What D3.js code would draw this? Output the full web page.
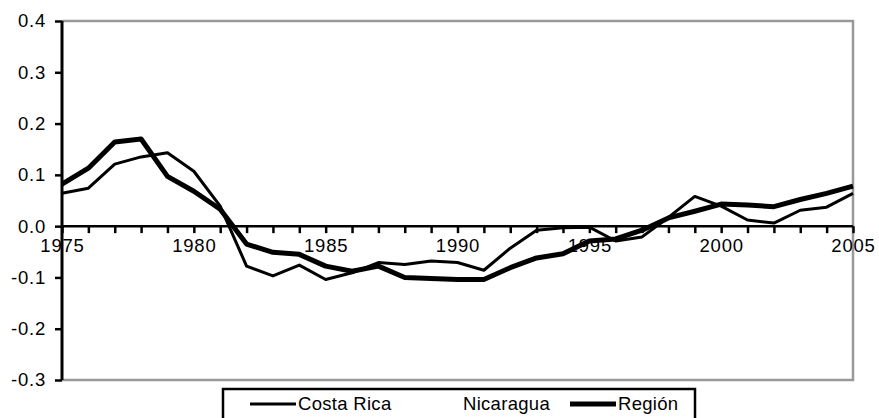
<!DOCTYPE html>
<html>
<head>
<meta charset="utf-8">
<script src="https://cdn.jsdelivr.net/npm/d3@7"></script>
<style>
  body { margin: 0; background: #fff; }
  text { font-family: "Liberation Sans", Arial, sans-serif; }
</style>
</head>
<body>
<script>
 //Data
 var years = d3.range(1975, 2006);
 var seriesNames = ["Costa Rica", "Nicaragua", "Región"];
 var costaRica = [0.064, 0.074, 0.121, 0.135, 0.143, 0.107, 0.039, -0.078, -0.097, -0.076,
     -0.104, -0.091, -0.071, -0.075, -0.068, -0.071, -0.086, -0.043, -0.008, -0.003,
     -0.002, -0.029, -0.021, 0.017, 0.058, 0.039, 0.012, 0.006, 0.031, 0.037, 0.064];
 var nicaragua = [0.100, 0.152, 0.207, 0.205, 0.051, 0.029, 0.027, 0.008, -0.005, -0.034,
     -0.052, -0.085, -0.085, -0.125, -0.136, -0.137, -0.122, -0.119, -0.116, -0.105,
     -0.056, -0.021, 0.005, 0.014, 0.000, 0.047, 0.070, 0.070, 0.073, 0.091, 0.092];
 var region = [0.082, 0.113, 0.164, 0.170, 0.097, 0.068, 0.033, -0.035, -0.051, -0.055,
     -0.078, -0.088, -0.078, -0.100, -0.102, -0.104, -0.104, -0.081, -0.062, -0.054,
     -0.029, -0.025, -0.008, 0.016, 0.029, 0.043, 0.041, 0.038, 0.052, 0.064, 0.078];
 var yTicks = [-0.3, -0.2, -0.1, 0.0, 0.1, 0.2, 0.3, 0.4];

 //Width and height
 var W = 879, H = 418;
 var plot = { left: 62, right: 853, top: 21, bottom: 380 };
 var fontSize = 18.5, spacing = "0.8px";

 var svg = d3.select("body")
     .append("svg")
     .attr("width", W)
     .attr("height", H);

 //Scales
 var x = d3.scaleLinear()
     .domain([1975, 2005])
     .range([plot.left, plot.right]);
 var y = d3.scaleLinear()
     .domain([-0.3, 0.4])
     .range([plot.bottom, plot.top]);

 var fmt = function(d) { return d.toFixed(1).replace("\u2212", "-"); };

 //Nicaragua is drawn in white, underneath everything else
 var line = d3.line()
     .x(function(d, i) { return x(years[i]); })
     .y(function(d) { return y(d); });

 svg.append("path")
     .datum(nicaragua)
     .attr("d", line)
     .attr("fill", "none")
     .attr("stroke", "#fff")
     .attr("stroke-width", 3);

 //Plot border (top, right, bottom)
 svg.append("path")
     .attr("d", "M" + plot.left + "," + y(0.4) + "H" + x(2005) + "V" + y(-0.3) + "H" + plot.left)
     .attr("fill", "none")
     .attr("stroke", "#999")
     .attr("stroke-width", 2.5);

 //Y axis
 var yAxis = svg.append("g")
     .attr("transform", "translate(" + plot.left + ",0)")
     .call(d3.axisLeft(y).tickValues(yTicks).tickSize(7).tickPadding(9).tickFormat(fmt));
 yAxis.select(".domain").attr("stroke", "#000").attr("stroke-width", 3)
     .attr("d", "M0," + y(0.4) + "V" + y(-0.3));
 yAxis.selectAll(".tick line").attr("stroke", "#000").attr("stroke-width", 2.5);
 yAxis.selectAll("text").attr("font-size", fontSize).attr("fill", "#000")
     .attr("letter-spacing", spacing)
     .attr("font-family", "Liberation Sans, Arial, sans-serif");

 //X axis, crossing at zero
 var xAxis = svg.append("g")
     .attr("transform", "translate(0," + y(0) + ")")
     .call(d3.axisBottom(x).tickValues(years).tickSize(7).tickPadding(6)
         .tickFormat(function(d) { return d % 5 === 0 ? d : ""; }));
 xAxis.select(".domain").attr("stroke", "#000").attr("stroke-width", 2.5)
     .attr("d", "M" + plot.left + ",0H" + plot.right);
 xAxis.selectAll(".tick line").attr("stroke", "#000").attr("stroke-width", 2.5);
 xAxis.selectAll("text").attr("font-size", fontSize).attr("fill", "#000")
     .attr("letter-spacing", spacing)
     .attr("font-family", "Liberation Sans, Arial, sans-serif");

 //Black series
 svg.append("path")
     .datum(costaRica)
     .attr("d", line)
     .attr("fill", "none")
     .attr("stroke", "#000")
     .attr("stroke-width", 3)
     .attr("stroke-linejoin", "round");

 svg.append("path")
     .datum(region)
     .attr("d", line)
     .attr("fill", "none")
     .attr("stroke", "#000")
     .attr("stroke-width", 5)
     .attr("stroke-linejoin", "round");

 //Legend
 var legend = svg.append("g").attr("class", "legend");
 legend.append("rect")
     .attr("x", 223)
     .attr("y", 389)
     .attr("width", 472)
     .attr("height", 40)
     .attr("fill", "#fff")
     .attr("stroke", "#000")
     .attr("stroke-width", 2.5);

 var legendItems = [
     { name: seriesNames[0], x: 250, color: "#000", width: 3 },
     { name: seriesNames[1], x: 415, color: "#fff", width: 3 },
     { name: seriesNames[2], x: 570, color: "#000", width: 5 }
 ];
 legendItems.forEach(function(d) {
     legend.append("line")
         .attr("x1", d.x).attr("x2", d.x + 46)
         .attr("y1", 404).attr("y2", 404)
         .attr("stroke", d.color)
         .attr("stroke-width", d.width);
     legend.append("text")
         .attr("x", d.x + 48)
         .attr("y", 410)
         .attr("font-size", fontSize)
         .attr("letter-spacing", "0.3px")
         .text(d.name);
 });
</script>
</body>
</html>
